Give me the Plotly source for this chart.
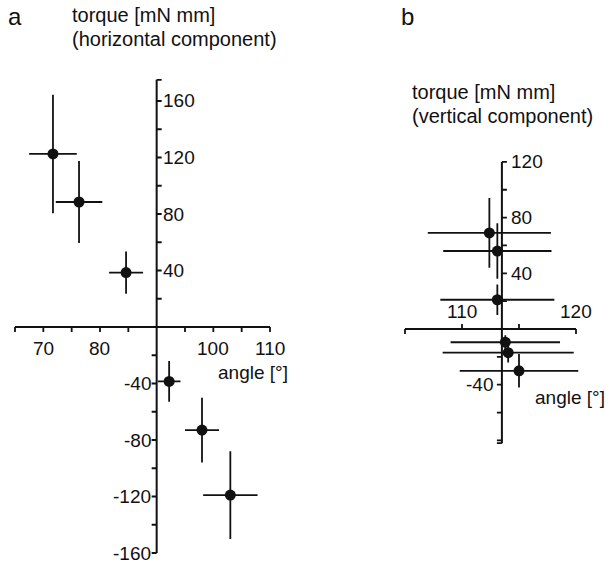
import plotly.graph_objects as go

# ---------------- data ----------------
a_angle = [71.7, 76.3, 84.6, 92.2, 98.0, 103.0]
a_torque = [122.5, 88.5, 38.5, -38.5, -73.0, -119.0]
a_angle_err = [4.2, 4.1, 3.0, 2.0, 3.0, 4.8]
a_torque_err = [42, 29, 15, 14.5, 23, 31]

b_angle = [112.4, 113.1, 113.1, 113.8, 114.05, 115.0]
b_torque = [69, 56, 21, -9.5, -17, -30]
b_angle_err = [5.4, 4.75, 5.0, 4.8, 5.75, 5.2]
b_torque_err = [25, 20, 11, 5, 7, 12]

a_xticks = [65, 70, 75, 80, 85, 95, 100, 105, 110]
a_xlabels = {70: "70", 80: "80", 100: "100", 110: "110"}
a_yticks = [-160, -140, -120, -100, -80, -60, -40, -20, 20, 40, 60, 80, 100, 120, 140, 160]
a_ylabels = {160: "160", 120: "120", 80: "80", 40: "40",
             -40: "-40", -80: "-80", -120: "-120", -160: "-160"}
a_xlim = (65, 110)
a_ylim = (-160, 175)
a_cross = 90

b_xticks = [105, 110, 115, 120]
b_xlabels = {110: "110", 120: "120"}
b_yticks = [-80, -60, -40, -20, 20, 40, 60, 80, 100, 120]
b_ylabels = {120: "120", 80: "80", 40: "40", -40: "-40"}
b_xlim = (105, 120)
b_ylim = (-82, 120)
b_cross = 113.5

W, H = 610, 565
FONT = "Liberation Sans, Arial, Helvetica, sans-serif"
BLACK = "#111111"

fig = go.Figure()

def add_points(xs, ys, ex, ey, xa, ya):
    fig.add_trace(go.Scatter(
        x=xs, y=ys, mode="markers", xaxis=xa, yaxis=ya,
        marker=dict(color=BLACK, size=11, line=dict(width=0)),
        error_x=dict(type="data", array=ex, visible=True, thickness=1.8, width=0, color=BLACK),
        error_y=dict(type="data", array=ey, visible=True, thickness=1.8, width=0, color=BLACK),
        cliponaxis=False, showlegend=False))

add_points(a_angle, a_torque, a_angle_err, a_torque_err, "x", "y")
add_points(b_angle, b_torque, b_angle_err, b_torque_err, "x2", "y2")

shapes = []
annotations = []

def line(xref, yref, x0, y0, x1, y1, w=2):
    shapes.append(dict(type="line", xref=xref, yref=yref, x0=x0, y0=y0, x1=x1, y1=y1,
                       line=dict(color=BLACK, width=w), layer="above"))

def xtick(xref, yref, x, y, length):
    shapes.append(dict(type="line", xref=xref, yref=yref, ysizemode="pixel", yanchor=y,
                       x0=x, x1=x, y0=0, y1=length, line=dict(color=BLACK, width=1.8)))

def ytick(xref, yref, x, y, length):
    shapes.append(dict(type="line", xref=xref, yref=yref, xsizemode="pixel", xanchor=x,
                       x0=0, x1=length, y0=y, y1=y, line=dict(color=BLACK, width=1.8)))

def text(xref, yref, x, y, s, xanchor="center", yanchor="middle", xshift=0, yshift=0, size=19):
    annotations.append(dict(xref=xref, yref=yref, x=x, y=y, text=s, showarrow=False,
                            xanchor=xanchor, yanchor=yanchor, xshift=xshift, yshift=yshift,
                            font=dict(family=FONT, size=size, color=BLACK)))

# ---- panel a axes ----
line("x", "y", a_xlim[0], 0, a_xlim[1], 0)
line("x", "y", a_cross, a_ylim[0], a_cross, a_ylim[1])
for t in a_xticks:
    xtick("x", "y", t, 0, -5)
for t in a_yticks:
    ytick("x", "y", a_cross, t, 5 if t > 0 else -5)
ytick("x", "y", a_cross, a_ylim[1], 5)
for t, s in a_xlabels.items():
    text("x", "y", t, 0, s, yshift=-21)
for t, s in a_ylabels.items():
    if t > 0:
        text("x", "y", a_cross, t, s, xanchor="left", xshift=4)
    else:
        text("x", "y", a_cross, t, s, xanchor="right", xshift=-4)
text("x", "y", 100.5, 0, "angle [°]", xanchor="left", yshift=-45)

# ---- panel b axes ----
line("x2", "y2", b_xlim[0], 0, b_xlim[1], 0)
line("x2", "y2", b_cross, b_ylim[0], b_cross, b_ylim[1])
for t in b_xticks:
    xtick("x2", "y2", t, 0, 5 if t in (110, 115) else -5)
for t in b_yticks:
    ytick("x2", "y2", b_cross, t, 5 if t > 0 else -5)
ytick("x2", "y2", b_cross, b_ylim[0], -5)
for t, s in b_xlabels.items():
    text("x2", "y2", t, 0, s, yshift=17)
for t, s in b_ylabels.items():
    if t > 0:
        text("x2", "y2", b_cross, t, s, xanchor="left", xshift=7)
    else:
        text("x2", "y2", b_cross, t, s, xanchor="right", xshift=-7)
text("x2", "y2", 116.2, 0, "angle [°]", xanchor="left", yshift=-69)

# ---- panel titles ----
def ptext(px, py, s, size=20, xanchor="left"):
    annotations.append(dict(xref="paper", yref="paper", x=px / W, y=1 - py / H,
                            text=s, showarrow=False, xanchor=xanchor, yanchor="middle",
                            font=dict(family=FONT, size=size, color=BLACK)))

ptext(6, 17, "a", size=24)
ptext(70, 15, "torque [mN mm]")
ptext(70, 39, "(horizontal component)")
ptext(399, 17, "b", size=24)
ptext(410, 92, "torque [mN mm]")
ptext(410, 116, "(vertical component)")

def dom_x(rng, v0, p0, ppu):
    return [(p0 + (rng[0] - v0) * ppu) / W, (p0 + (rng[1] - v0) * ppu) / W]

def dom_y(rng, p0, ppu):
    return [1 - (p0 - rng[0] * ppu) / H, 1 - (p0 - rng[1] * ppu) / H]

ax_rng = (64.5, 113)
ay_rng = (-165, 180)
bx_rng = (104, 121)
by_rng = (-90, 125)

hidden = dict(visible=False, showgrid=False, zeroline=False)
fig.update_layout(
    width=W, height=H, autosize=False,
    margin=dict(l=0, r=0, t=0, b=0),
    paper_bgcolor="white", plot_bgcolor="white",
    hovermode=False,
    xaxis=dict(range=list(ax_rng), domain=dom_x(ax_rng, 65, 15, 255 / 45), **hidden),
    yaxis=dict(range=list(ay_rng), domain=dom_y(ay_rng, 327, 56.5 / 40), **hidden),
    xaxis2=dict(range=list(bx_rng), domain=dom_x(bx_rng, 110, 462, 11.4), anchor="y2", **hidden),
    yaxis2=dict(range=list(by_rng), domain=dom_y(by_rng, 329, 55.7 / 40), anchor="x2", **hidden),
    shapes=shapes, annotations=annotations,
)

fig.write_html("out.html",
               config={"displayModeBar": False, "staticPlot": True},
               post_script="document.body.style.margin='0';document.body.style.overflow='hidden';")
